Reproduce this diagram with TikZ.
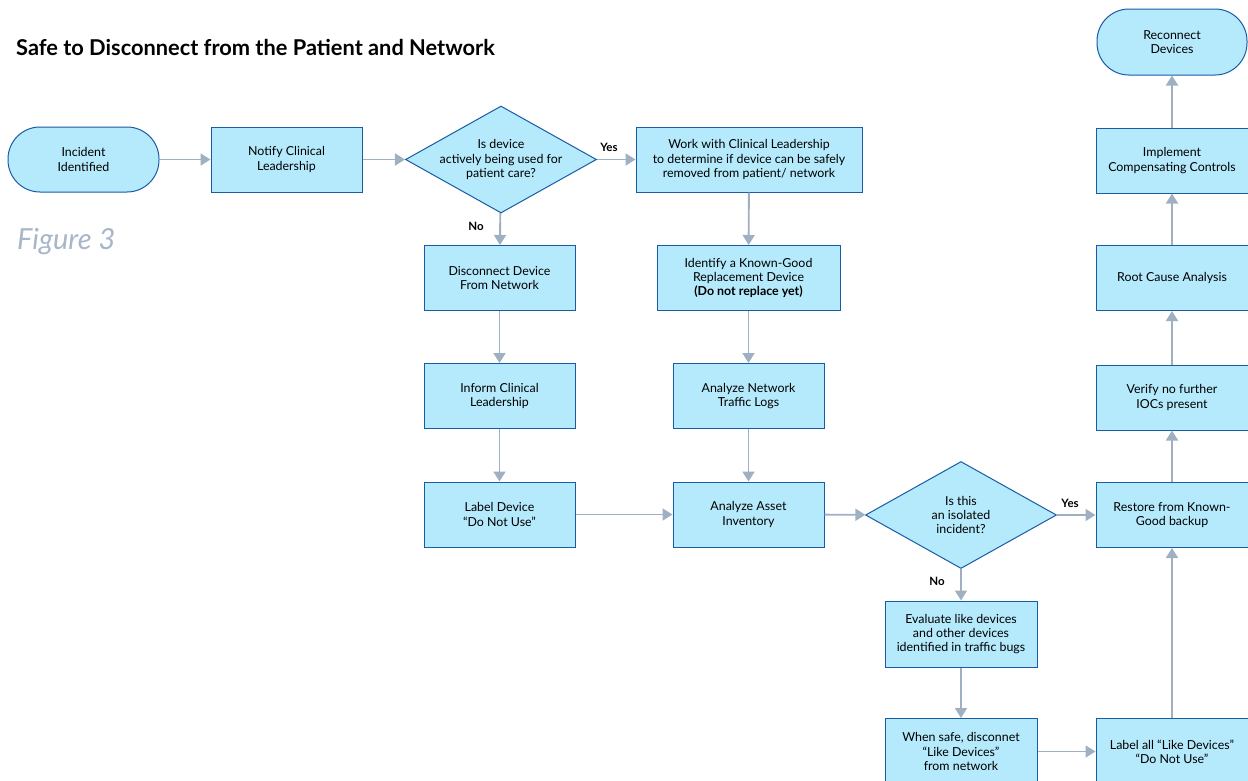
\documentclass[tikz,border=0pt]{standalone}
\usepackage{fontspec}
\setmainfont{Lato}
\usetikzlibrary{arrows.meta,shapes.geometric}
\definecolor{fillc}{HTML}{B5EAFC}
\definecolor{bdr}{HTML}{1A5BA6}
\definecolor{arrc}{HTML}{9FB0C3}
\definecolor{figc}{HTML}{A7B6C8}
\newcommand\bxfont{\fontsize{12.4}{14.3}\selectfont}
\begin{document}
\begin{tikzpicture}[x=1pt,y=-1pt,
  box/.style={draw=bdr, fill=fillc, line width=1pt, minimum width=151pt, minimum height=65pt, align=center, inner sep=2pt, font=\bxfont},
  term/.style={box, rounded corners=32pt},
  dia/.style={diamond, draw=bdr, fill=fillc, line width=1pt, minimum width=191pt, minimum height=107pt, inner sep=0pt},
  diatext/.style={align=center, font=\bxfont},
  arr/.style={draw=arrc, line width=1.9pt, -{Triangle[length=10pt,width=12pt]}},
  yn/.style={font=\fontsize{11.5}{13}\selectfont\bfseries}]
\useasboundingbox (0,0) rectangle (1248,780);
\node[anchor=base west, inner sep=0pt, font=\fontsize{21.8}{26}\selectfont\bfseries] (title) at (16,55) {Safe to Disconnect from the Patient and Network};
\node[anchor=base west, inner sep=0pt, text=figc, font=\fontsize{29}{34}\selectfont\itshape] (fig) at (17,249) {Figure 3};

\node[term] (inc) at (83.5,159.5) {Incident\\Identified};
\node[box] (notify) at (286.5,159.5) {Notify Clinical\\Leadership};
\node[dia, label={[diatext]center:Is device\\actively being used for\\patient care?}] (d1) at (501,159.5) {};
\node[box, minimum width=226pt] (work) at (749,159.5) {Work with Clinical Leadership\\to determine if device can be safely\\removed from patient/ network};
\node[box] (disc) at (499.5,278) {Disconnect Device\\From Network};
\node[box, minimum width=183pt] (ident) at (748.5,278) {Identify a Known-Good\\Replacement Device\\\textbf{(Do not replace yet)}};
\node[box] (inform) at (499.5,396) {Inform Clinical\\Leadership};
\node[box] (traffic) at (748.5,396) {Analyze Network\\Traffic Logs};
\node[box] (labeldev) at (499.5,514.5) {Label Device\\“Do Not Use”};
\node[box] (asset) at (748.5,514.5) {Analyze Asset\\Inventory};
\node[dia, label={[diatext]center:Is this\\an isolated\\incident?}] (d2) at (961,515) {};
\node[box, minimum width=152pt] (restore) at (1172,515) {Restore from Known-\\Good backup};
\node[box, minimum width=152pt, minimum height=66pt] (eval) at (961,634) {Evaluate like devices\\and other devices\\identified in traffic bugs};
\node[box, minimum width=152pt, minimum height=66pt] (safe) at (961,751.5) {When safe, disconnet\\“Like Devices”\\from network};
\node[box, minimum width=152pt, minimum height=66pt] (labelall) at (1172,751.5) {Label all “Like Devices”\\“Do Not Use”};
\node[box, minimum width=152pt] (verify) at (1172,397.5) {Verify no further\\IOCs present};
\node[box, minimum width=152pt] (root) at (1172,278) {Root Cause Analysis};
\node[box, minimum width=152pt] (impl) at (1172,160.5) {Implement\\Compensating Controls};
\node[term, minimum width=150pt, minimum height=66pt] (recon) at (1172,42) {Reconnect\\Devices};

\draw[arr] (inc) -- (notify);
\draw[arr] (notify) -- (d1);
\draw[arr] (d1) -- (work);
\draw[arr] (d1) -- (disc);
\draw[arr] (work) -- (ident);
\draw[arr] (disc) -- (inform);
\draw[arr] (ident) -- (traffic);
\draw[arr] (inform) -- (labeldev);
\draw[arr] (traffic) -- (asset);
\draw[arr] (labeldev) -- (asset);
\draw[arr] (asset) -- (d2);
\draw[arr] (d2) -- (restore);
\draw[arr] (d2) -- (eval);
\draw[arr] (eval) -- (safe);
\draw[arr] (safe) -- (labelall);
\draw[arr] (labelall) -- (restore);
\draw[arr] (restore) -- (verify);
\draw[arr] (verify) -- (root);
\draw[arr] (root) -- (impl);
\draw[arr] (impl) -- (recon);

\node[yn] (yes1) at (609,147) {Yes};
\node[yn] (no1) at (476,226) {No};
\node[yn] (yes2) at (1070,503) {Yes};
\node[yn] (no2) at (937,581) {No};
\end{tikzpicture}
\end{document}
